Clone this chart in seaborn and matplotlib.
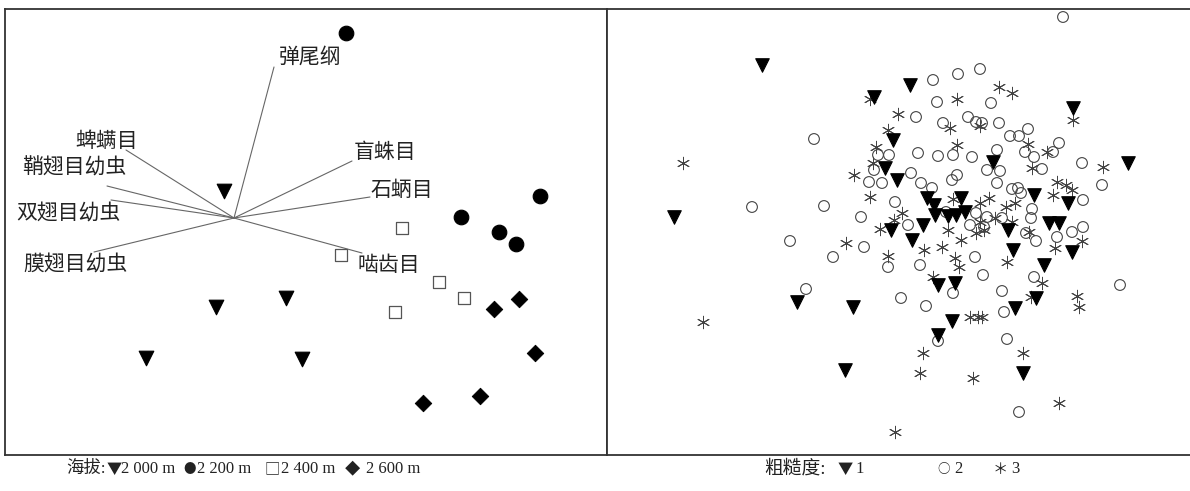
import numpy as np
import pandas as pd
import matplotlib
matplotlib.use("Agg")
import matplotlib.pyplot as plt
import seaborn as sns

# ---- left panel: sites by altitude (ordination scores, image units) ----
alt_2000_x = [224, 216, 286, 146, 302]
alt_2000_y = [191, 307, 298, 358, 359]
alt_2200_x = [346, 540, 461, 499, 516]
alt_2200_y = [33, 196, 217, 232, 244]
alt_2400_x = [402, 341, 439, 464, 395]
alt_2400_y = [228, 255, 282, 298, 312]
alt_2600_x = [519, 494, 535, 480, 423]
alt_2600_y = [299, 309, 353, 396, 403]

# taxa vectors (biplot)
taxa = ["弹尾纲", "蜱螨目", "鞘翅目幼虫", "双翅目幼虫", "膜翅目幼虫", "盲蛛目", "石蛃目", "啮齿目"]
vec_origin = (234, 218)
vec_end_x = [274, 126, 107, 111, 94, 352, 370, 362]
vec_end_y = [67, 150, 186, 200, 252, 161, 197, 253]
label_x = [310, 107, 74, 68, 76, 385, 402, 389]
label_y = [57, 141, 168, 214, 265, 152, 190, 265]

# ---- right panel: samples by roughness ----
r1_x = [762, 910, 874, 1073, 1128, 893, 885, 897, 674, 993, 961, 927, 934, 1034, 1068, 935, 948, 956, 965,
        923, 891, 1008, 1049, 1059, 912, 1013, 1072, 1044, 938, 955, 1036, 1015, 797, 853, 952, 938, 845, 1023]
r1_y = [65, 85, 97, 108, 163, 140, 168, 180, 217, 162, 198, 198, 205, 195, 203, 215, 216, 215, 212,
        225, 230, 230, 223, 223, 240, 250, 252, 265, 285, 283, 298, 308, 302, 307, 321, 335, 370, 373]
r2_x = [1063, 980, 958, 933, 937, 991, 916, 943, 968, 976, 982, 999, 1010, 1019, 1028, 814, 1059, 1053, 1025, 1034,
        1042, 997, 918, 938, 953, 972, 878, 889, 1082, 987, 1000, 911, 874, 869, 882, 952, 957, 921, 932, 997,
        1012, 1018, 1021, 1102, 1083, 752, 824, 895, 946, 976, 987, 1032, 1031, 861, 908, 970, 984, 1002, 1026, 1036,
        1072, 1083, 1057, 790, 864, 833, 888, 920, 975, 983, 1034, 1120, 806, 953, 1002, 901, 926, 1004, 938, 1007,
        1019]
r2_y = [17, 69, 74, 80, 102, 103, 117, 123, 117, 122, 123, 123, 136, 136, 129, 139, 143, 152, 152, 157,
        169, 150, 153, 156, 155, 157, 155, 155, 163, 170, 171, 173, 170, 182, 183, 180, 175, 183, 188, 183,
        189, 188, 193, 185, 200, 207, 206, 202, 212, 213, 217, 209, 218, 217, 225, 225, 227, 218, 233, 241,
        232, 227, 237, 241, 247, 257, 267, 265, 257, 275, 277, 285, 289, 293, 291, 298, 306, 312, 341, 339,
        412]
r3_x = [999, 1012, 957, 870, 898, 950, 980, 888, 1073, 957, 876, 1028, 1047, 1032, 683, 873, 854, 1103, 1057, 1066,
        1053, 1072, 870, 953, 980, 989, 1006, 1015, 902, 894, 880, 995, 980, 1012, 948, 976, 984, 1029, 1082, 961,
        846, 924, 942, 1055, 888, 955, 959, 1007, 933, 1042, 1077, 1079, 1031, 970, 978, 982, 923, 1023, 920, 973,
        1059, 703, 895]
r3_y = [87, 93, 99, 99, 114, 128, 126, 130, 120, 145, 147, 144, 152, 168, 163, 163, 175, 167, 182, 185,
        195, 190, 197, 199, 203, 198, 207, 203, 213, 220, 229, 218, 222, 222, 230, 233, 230, 232, 241, 240,
        243, 250, 247, 248, 256, 258, 267, 262, 277, 283, 296, 307, 297, 317, 317, 317, 353, 353, 373, 378,
        403, 322, 432]

# legend pieces (text, left x in px, font size)
left_legend = [("海拔:", 66, 12.5), ("▼", 107, 11), ("2 000 m", 121, 12), ("●", 183, 9), ("2 200 m", 197, 12),
               ("□", 265, 11), ("2 400 m", 281, 12), ("◆", 345, 11), ("2 600 m", 366, 12)]
right_legend = [("粗糙度:", 764, 13.5), ("▼", 838, 11), ("1", 855, 12), ("○", 937, 9), ("2", 954, 12),
                ("＊", 993, 11), ("3", 1011, 12)]
symbols = "▼●□◆○＊"

sns.set_style("white")
plt.rcParams["font.family"] = ["Noto Sans CJK SC", "DejaVu Sans"]
serif_fam = ["Liberation Serif", "Noto Sans CJK SC", "DejaVu Sans"]

W, H = 1190, 491
fig = plt.figure(figsize=(W / 100, H / 100), dpi=100)
top, bot = 9, 455
ax1 = fig.add_axes([5 / W, 1 - bot / H, (607 - 5) / W, (bot - top) / H])
ax2 = fig.add_axes([607 / W, 1 - bot / H, (1192 - 607) / W, (bot - top) / H])

# left panel
left = pd.concat([
    pd.DataFrame({"x": alt_2000_x, "y": alt_2000_y, "g": "2000"}),
    pd.DataFrame({"x": alt_2200_x, "y": alt_2200_y, "g": "2200"}),
    pd.DataFrame({"x": alt_2400_x, "y": alt_2400_y, "g": "2400"}),
    pd.DataFrame({"x": alt_2600_x, "y": alt_2600_y, "g": "2600"}),
])
styles_left = {
    "2000": dict(marker="v", s=110, color="black", edgecolor="black"),
    "2200": dict(marker="o", s=110, color="black", edgecolor="black"),
    "2400": dict(marker="s", s=70, facecolor="white", edgecolor="#555555", linewidth=0.9),
    "2600": dict(marker="D", s=70, color="black", edgecolor="black"),
}
for g, kw in styles_left.items():
    sns.scatterplot(data=left[left.g == g], x="x", y="y", ax=ax1, legend=False, zorder=3, **kw)

for ex, ey in zip(vec_end_x, vec_end_y):
    ax1.plot([vec_origin[0], ex], [vec_origin[1], ey], color="#666666", lw=0.8, zorder=2)
for name, lx, ly in zip(taxa, label_x, label_y):
    ax1.text(lx, ly, name, fontsize=15, ha="center", va="center", color="#222222")

ax1.set_xlim(5, 607)
ax1.set_ylim(bot, top)

# right panel
right = pd.concat([
    pd.DataFrame({"x": r1_x, "y": r1_y, "g": "1"}),
    pd.DataFrame({"x": r2_x, "y": r2_y, "g": "2"}),
    pd.DataFrame({"x": r3_x, "y": r3_y, "g": "3"}),
])
sns.scatterplot(data=right[right.g == "2"], x="x", y="y", ax=ax2, legend=False, marker="o", s=60,
                facecolor="none", edgecolor="#444444", linewidth=0.8, zorder=2)
sns.scatterplot(data=right[right.g == "3"], x="x", y="y", ax=ax2, legend=False, marker=(6, 2, 0), s=80,
                color="#444444", linewidth=0.7, zorder=3)
sns.scatterplot(data=right[right.g == "1"], x="x", y="y", ax=ax2, legend=False, marker="v", s=95,
                color="black", edgecolor="black", zorder=4)
ax2.set_xlim(607, 1192)
ax2.set_ylim(bot, top)

for ax in (ax1, ax2):
    ax.set_xticks([])
    ax.set_yticks([])
    ax.set_xlabel("")
    ax.set_ylabel("")
    for sp in ax.spines.values():
        sp.set_color("#333333")
        sp.set_linewidth(1.3)
ax2.spines["right"].set_visible(False)

for txt, px, fs in left_legend + right_legend:
    fam = ["Noto Sans CJK SC", "DejaVu Sans"] if txt in symbols else serif_fam
    fig.text(px / W, 1 - 469 / H, txt, fontsize=fs, ha="left", va="center",
             color="#222222", family=fam)

fig.savefig("out.png", dpi=100, facecolor="white")
